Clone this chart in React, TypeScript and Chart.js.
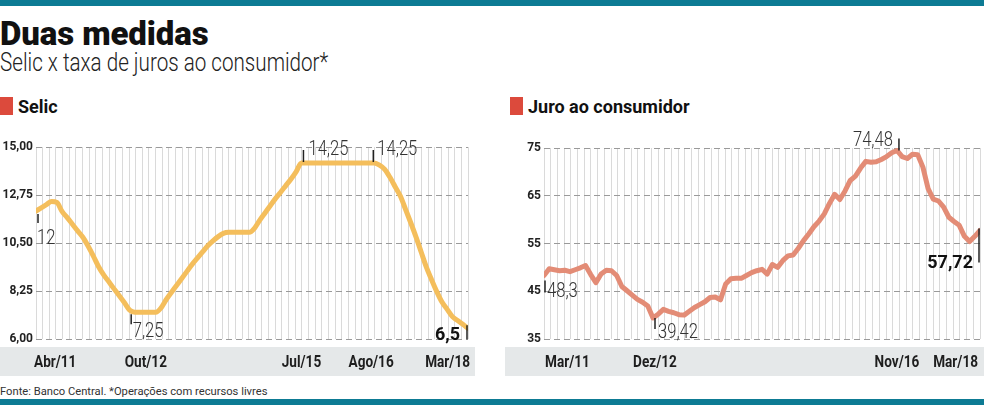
import React, { useEffect, useRef } from 'react';
import { Chart, registerables } from 'chart.js';

Chart.register(...registerables);

// ---------------- DATA ----------------
// Selic, monthly Apr/2011 .. Mar/2018 (% a.a.)
const selicValues = [
  12.0, 12.15, 12.3, 12.45, 12.4, 11.98, 11.69, 11.38, 11.07, 10.77,
  10.36, 9.9, 9.4, 9.01, 8.68, 8.35, 8.03, 7.7, 7.35, 7.25,
  7.25, 7.25, 7.25, 7.25, 7.45, 7.84, 8.18, 8.51, 8.84, 9.17,
  9.5, 9.79, 10.08, 10.37, 10.6, 10.8, 10.95, 11.0, 11.0, 11.0,
  11.0, 11.0, 11.2, 11.57, 11.91, 12.25, 12.58, 12.88, 13.19, 13.5,
  13.85, 14.25, 14.25, 14.25, 14.25, 14.25, 14.25, 14.25, 14.25, 14.25,
  14.25, 14.25, 14.25, 14.25, 14.25, 14.25, 14.15, 13.95, 13.58, 13.14,
  12.7, 12.08, 11.45, 10.79, 10.08, 9.37, 8.78, 8.22, 7.73, 7.39,
  7.05, 6.87, 6.69, 6.5,
];
const selicTickMonths = [0, 18, 51, 64, 83];
const selicTickLabels = ['Abr/11', 'Out/12', 'Jul/15', 'Ago/16', 'Mar/18'];
const selicYTicks = [6, 8.25, 10.5, 12.75, 15];
const selicYLabels = ['6,00', '8,25', '10,50', '12,75', '15,00'];
const selicNoteMonths = [0, 18, 51, 65, 83];
const selicNoteLabels = ['12', '7,25', '14,25', '14,25', '6,5'];

// Juro ao consumidor, monthly Mar/2011 .. Mar/2018 (% a.a.)
const juroValues = [
  48.3, 49.7, 49.5, 49.3, 49.4, 49.1, 49.5, 49.9, 50.4, 48.5,
  46.8, 48.6, 49.4, 49.3, 48.3, 46.0, 45.1, 44.2, 43.3, 42.7,
  41.9, 39.42, 40.2, 41.2, 40.8, 40.5, 40.1, 40.0, 40.8, 41.6,
  42.2, 42.8, 43.7, 43.8, 43.2, 46.5, 47.6, 47.7, 47.7, 48.3,
  48.9, 49.3, 49.6, 48.6, 50.6, 50.0, 51.4, 52.4, 52.6, 54.0,
  55.6, 57.0, 58.5, 59.7, 61.2, 63.4, 65.3, 64.2, 66.0, 68.2,
  69.1, 70.8, 72.2, 72.0, 72.1, 72.6, 73.2, 74.0, 74.48, 73.2,
  72.8, 73.7, 73.6, 71.0, 66.5, 64.3, 63.9, 62.6, 60.5, 59.6,
  58.8, 56.5, 55.4, 56.5, 57.72,
];
const juroTickMonths = [0, 21, 68, 84];
const juroTickLabels = ['Mar/11', 'Dez/12', 'Nov/16', 'Mar/18'];
const juroYTicks = [35, 45, 55, 65, 75];
const juroYLabels = ['35', '45', '55', '65', '75'];
const juroNoteMonths = [0, 21, 68, 84];
const juroNoteLabels = ['48,3', '39,42', '74,48', '57,72'];

// ---------------- STYLES ----------------
type NoteStyle = { tdx: number; t1: number; t2: number; dx: number; dy: number; align: CanvasTextAlign; bold: boolean };
type TickStyle = { dx: number; align: CanvasTextAlign };

const selicNoteStyles: NoteStyle[] = [
  { tdx: 2, t1: 3, t2: 12, dx: 1, dy: 33, align: 'left', bold: false },
  { tdx: 1.5, t1: 4, t2: 14, dx: 3, dy: 27, align: 'left', bold: false },
  { tdx: 2, t1: -1, t2: -13, dx: 7, dy: -8, align: 'left', bold: false },
  { tdx: -1, t1: -1, t2: -13, dx: 3, dy: -8, align: 'left', bold: false },
  { tdx: -1, t1: -3, t2: 11, dx: -8, dy: 12, align: 'right', bold: true },
];
const selicTickStyles: TickStyle[] = [
  { dx: -2, align: 'left' },
  { dx: -5, align: 'left' },
  { dx: 0, align: 'center' },
  { dx: 2, align: 'center' },
  { dx: 2, align: 'right' },
];
const juroNoteStyles: NoteStyle[] = [
  { tdx: 1, t1: 5, t2: 17, dx: 3, dy: 22, align: 'left', bold: false },
  { tdx: 2, t1: 0, t2: 11, dx: 5, dy: 20, align: 'left', bold: false },
  { tdx: 2, t1: -12, t2: 0, dx: -4, dy: -4, align: 'right', bold: false },
  { tdx: -1, t1: -2, t2: 32, dx: -7, dy: 37, align: 'right', bold: true },
];
const juroTickStyles: TickStyle[] = [
  { dx: 1, align: 'left' },
  { dx: 2, align: 'center' },
  { dx: 0, align: 'center' },
  { dx: -2, align: 'right' },
];

function drawScaled(ctx: CanvasRenderingContext2D, text: string, x: number, y: number, align: CanvasTextAlign, font: string, color: string, sx: number) {
  ctx.save();
  ctx.font = font;
  ctx.fillStyle = color;
  ctx.textAlign = align;
  ctx.textBaseline = 'alphabetic';
  ctx.translate(x, y);
  ctx.scale(sx, 1);
  ctx.fillText(text, 0, 0);
  ctx.restore();
}

type Props = {
  values: number[];
  color: string;
  yTicks: number[];
  yLabels: string[];
  tickMonths: number[];
  tickLabels: string[];
  tickStyles: TickStyle[];
  noteMonths: number[];
  noteLabels: string[];
  noteStyles: NoteStyle[];
  left: number;
  width: number;
  yWidth: number;
  padRight: number;
  padTop: number;
  smooth: boolean;
};

function LineChart(p: Props) {
  const ref = useRef<HTMLCanvasElement>(null);
  useEffect(() => {
    const plugins: any[] = [
      {
        id: 'band',
        beforeDraw(chart: any) {
          const ctx = chart.ctx;
          const b = chart.chartArea.bottom;
          ctx.save();
          ctx.fillStyle = '#e5e8e9';
          ctx.fillRect(0, b + 8, p.width, 29);
          ctx.restore();
        },
      },
      {
        id: 'xlabels',
        afterDraw(chart: any) {
          const ctx = chart.ctx;
          const xs = chart.scales.x;
          const b = chart.chartArea.bottom;
          p.tickMonths.forEach((m, k) => {
            const st = p.tickStyles[k];
            drawScaled(ctx, p.tickLabels[k], xs.getPixelForValue(m) + st.dx, b + 28, st.align, 'bold 16px Roboto', '#1e1e1e', 0.85);
          });
        },
      },
      {
        id: 'notes',
        afterDatasetsDraw(chart: any) {
          const ctx = chart.ctx;
          const xs = chart.scales.x;
          const ys = chart.scales.y;
          p.noteMonths.forEach((m, k) => {
            const st = p.noteStyles[k];
            const px = xs.getPixelForValue(m);
            const py = ys.getPixelForValue(p.values[m]);
            ctx.save();
            ctx.strokeStyle = '#222';
            ctx.lineWidth = 1.5;
            ctx.beginPath();
            ctx.moveTo(px + st.tdx, py + st.t1);
            ctx.lineTo(px + st.tdx, py + st.t2);
            ctx.stroke();
            ctx.restore();
            if (st.bold) {
              drawScaled(ctx, p.noteLabels[k], px + st.dx, py + st.dy, st.align, 'bold 18px Roboto', '#111', 1);
            } else {
              drawScaled(ctx, p.noteLabels[k], px + st.dx, py + st.dy, st.align, '300 20px Roboto', '#333', 0.83);
            }
          });
        },
      },
    ];
    const chart = new Chart(ref.current as HTMLCanvasElement, {
      type: 'line',
      data: {
        datasets: [
          {
            data: p.values.map((v, i) => ({ x: i, y: v })),
            borderColor: p.color,
            borderWidth: 5,
            pointRadius: 0,
            tension: 0,
            cubicInterpolationMode: p.smooth ? 'monotone' : 'default',
            borderJoinStyle: 'round',
            borderCapStyle: 'round',
            xAxisID: 'x',
            yAxisID: 'y',
          } as any,
        ],
      },
      options: {
        animation: false,
        responsive: false,
        events: [],
        layout: { padding: { left: 0, right: p.padRight, top: p.padTop, bottom: 41 } },
        plugins: { legend: { display: false }, tooltip: { enabled: false } },
        scales: {
          x: { type: 'linear', min: 0, max: p.values.length - 1, display: false },
          xg: {
            type: 'linear',
            position: 'bottom',
            min: 0,
            max: 65,
            afterBuildTicks: (s: any) => {
              s.ticks = Array.from({ length: 66 }, (_, k) => ({ value: k }));
            },
            ticks: { display: false },
            grid: { color: '#dadada', lineWidth: 1, drawTicks: false },
            border: { display: false },
            afterFit: (s: any) => {
              s.height = 0;
            },
          },
          y: {
            type: 'linear',
            min: p.yTicks[0],
            max: p.yTicks[p.yTicks.length - 1],
            afterBuildTicks: (s: any) => {
              s.ticks = p.yTicks.map((v) => ({ value: v }));
            },
            ticks: {
              callback: (_v: any, i: number) => p.yLabels[i],
              font: { family: 'Roboto', weight: 'bold', size: 12 },
              color: '#222',
              padding: 3,
            },
            grid: { color: '#9a9a9a', lineWidth: 1, drawTicks: false },
            border: { display: false, dash: [6, 4] },
            afterFit: (s: any) => {
              s.width = p.yWidth;
            },
          },
        } as any,
      },
      plugins,
    });
    return () => chart.destroy();
  }, []);
  return (
    <canvas
      ref={ref}
      width={p.width}
      height={250}
      style={{ position: 'absolute', left: p.left, top: 130, width: p.width, height: 250, display: 'block' }}
    />
  );
}

const abs = (o: React.CSSProperties): React.CSSProperties => ({ position: 'absolute', whiteSpace: 'nowrap', ...o });

export default function App() {
  return (
    <div
      style={{
        position: 'fixed',
        left: 0,
        top: 0,
        width: 984,
        height: 405,
        background: '#fff',
        overflow: 'hidden',
        fontFamily: 'Roboto, sans-serif',
      }}
    >
      <div style={abs({ left: 0, top: 0, width: 984, height: 6, background: '#0d7b94' })} />
      <div style={abs({ left: 0, top: 17, fontSize: 33, lineHeight: '33px', fontWeight: 900, color: '#111', letterSpacing: -0.1 })}>
        Duas medidas
      </div>
      <div
        style={abs({
          left: 0,
          top: 50,
          fontSize: 25,
          lineHeight: '25px',
          fontWeight: 300,
          color: '#222',
          transform: 'scaleX(0.825)',
          transformOrigin: 'left top',
        })}
      >
        Selic x taxa de juros ao consumidor*
      </div>
      <div style={abs({ left: 0, top: 97, width: 13, height: 18, background: '#dc4a3c' })} />
      <div style={abs({ left: 18, top: 98, fontSize: 18, lineHeight: '18px', fontWeight: 700, color: '#111' })}>Selic</div>
      <div style={abs({ left: 510, top: 97, width: 13, height: 18, background: '#dc4a3c' })} />
      <div style={abs({ left: 528, top: 98, fontSize: 18, lineHeight: '18px', fontWeight: 700, color: '#111' })}>
        Juro ao consumidor
      </div>

      <LineChart
        values={selicValues}
        color="#f4be5c"
        yTicks={selicYTicks}
        yLabels={selicYLabels}
        tickMonths={selicTickMonths}
        tickLabels={selicTickLabels}
        tickStyles={selicTickStyles}
        noteMonths={selicNoteMonths}
        noteLabels={selicNoteLabels}
        noteStyles={selicNoteStyles}
        left={0}
        width={475}
        yWidth={36}
        padRight={7}
        padTop={17}
        smooth={true}
      />
      <LineChart
        values={juroValues}
        color="#e38c76"
        yTicks={juroYTicks}
        yLabels={juroYLabels}
        tickMonths={juroTickMonths}
        tickLabels={juroTickLabels}
        tickStyles={juroTickStyles}
        noteMonths={juroNoteMonths}
        noteLabels={juroNoteLabels}
        noteStyles={juroNoteStyles}
        left={505}
        width={479}
        yWidth={39}
        padRight={4}
        padTop={18}
        smooth={false}
      />

      <div style={abs({ left: 0, top: 386, fontSize: 11.2, lineHeight: '11.2px', fontWeight: 400, color: '#333' })}>
        Fonte: Banco Central. *Operações com recursos livres
      </div>
      <div style={abs({ left: 0, top: 399, width: 984, height: 6, background: '#0d7b94' })} />
    </div>
  );
}
